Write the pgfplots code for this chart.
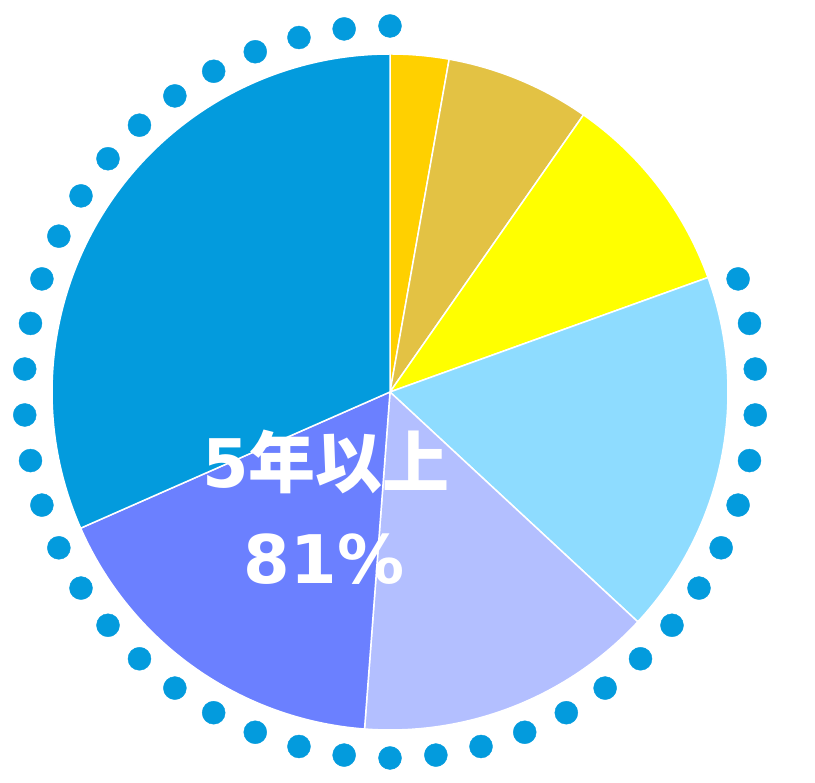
\documentclass[border=0pt]{standalone}
\usepackage{pgfplots}
\pgfplotsset{compat=1.18}
\usepackage{pgfplotstable}
\usepackage{fontspec}
\setmainfont{DejaVu Sans}
\newfontfamily\cjk{Noto Sans CJK JP}

\definecolor{pieA}{HTML}{FFD000}
\definecolor{pieB}{HTML}{E3C244}
\definecolor{pieC}{HTML}{FFFF00}
\definecolor{pieD}{HTML}{8EDCFF}
\definecolor{pieE}{HTML}{B3BFFF}
\definecolor{pieF}{HTML}{6B80FF}
\definecolor{pieG}{HTML}{039BDD}

% shares in percent, clockwise from 12 o'clock
\pgfplotstableread{
share color
2.8   pieA
6.9   pieB
9.8   pieC
17.4  pieD
14.3  pieE
17.2  pieF
31.6  pieG
}\slices

% angles of the dotted ring (degrees)
\pgfplotstableread{
n a
1 90
2 97.2
3 104.4
4 111.6
5 118.8
6 126
7 133.2
8 140.4
9 147.6
10 154.8
11 162
12 169.2
13 176.4
14 183.6
15 190.8
16 198
17 205.2
18 212.4
19 219.6
20 226.8
21 234
22 241.2
23 248.4
24 255.6
25 262.8
26 270
27 277.2
28 284.4
29 291.6
30 298.8
31 306
32 313.2
33 320.4
34 327.6
35 334.8
36 342
37 349.2
38 356.4
39 363.6
40 370.8
41 378
}\ringdots

\xdef\startang{90}
\newcommand\slice[2]{%
  \pgfmathsetmacro\endang{\startang-3.6*#1}%
  \edef\temp{\noexpand\filldraw[fill=#2, draw=white, line width=1.5pt, line join=round]
    (axis cs:390,391) -- ++(\startang:338) arc[start angle=\startang, end angle=\endang, radius=338] -- cycle;}%
  \temp
  \xdef\startang{\endang}%
}

\begin{document}
\begin{tikzpicture}
\begin{axis}[
    scale only axis,
    width=815pt, height=783pt,
    xmin=0, xmax=815, ymin=0, ymax=783,
    hide axis,
    clip=false,
]
% keep the whole axis area as the picture
\path (axis cs:0,0) rectangle (axis cs:815,783);

\pgfplotstablegetrowsof{\slices}
\pgfmathtruncatemacro\nrows{\pgfplotsretval-1}
\pgfplotsforeachungrouped \i in {0,...,\nrows}{%
  \pgfplotstablegetelem{\i}{share}\of\slices \let\sh\pgfplotsretval
  \pgfplotstablegetelem{\i}{color}\of\slices \let\col\pgfplotsretval
  \edef\doslice{\noexpand\slice{\sh}{\col}}\doslice
}

\addplot[only marks, mark=*, mark size=11.5pt, color=pieG]
  table[x expr={390+366*cos(\thisrow{a})}, y expr={391+366*sin(\thisrow{a})}] {\ringdots};

\node[white, font=\fontsize{67}{67}\selectfont\bfseries] at (axis cs:326,321) {5{\cjk 年以上}};
\node[white, font=\fontsize{67}{67}\selectfont\bfseries] at (axis cs:324,224) {81\%};
\end{axis}
\end{tikzpicture}
\end{document}
